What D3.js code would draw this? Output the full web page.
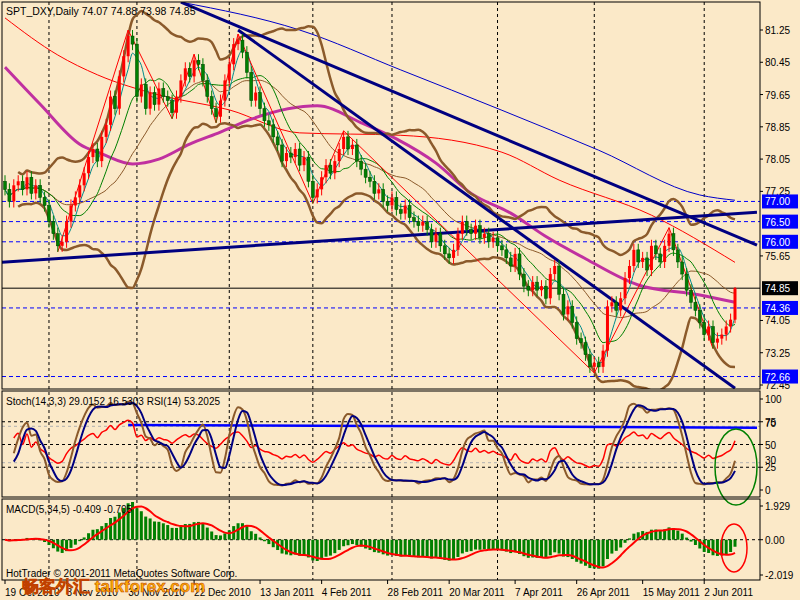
<!DOCTYPE html>
<html><head><meta charset="utf-8">
<script src="https://cdn.jsdelivr.net/npm/d3@7"></script>
<style>body{margin:0;background:#fbe9c8}text{font-family:"Liberation Sans",Arial,sans-serif}</style>
</head><body><svg id="c" width="800" height="600"></svg>
<script>
// ---- data ----
const closes = [77.3,77.0,77.4,77.5,77.3,77.6,77.2,77.4,77.1,76.9,
76.5,76.2,75.9,76.0, 76.5,76.9,77.1,77.4, 77.7,78.1,78.3,78.0,78.6,
78.9,79.6,79.3,80.1,80.6,81.1,80.9, 79.6,79.9,79.3, 79.7,79.4,79.8,79.6,79.5,
79.2,79.6,80.0,80.3,80.1,80.5,80.4, 80.0,79.6,79.3,79.1,79.5,
80.0,80.4,80.9,81.0,80.7,80.2, 79.5,79.7,79.3,79.0,78.9,
78.6,78.4,78.0,78.2,78.1,78.3, 77.9,78.1,77.5,77.1,77.3,
77.6,77.9,77.7,78.0,78.3, 78.6,78.3,78.4,78.0,
77.8,77.6,77.5,77.2,77.3,77.0,76.9,77.1, 76.8,76.7,76.9,76.6,76.5,
76.4,76.5,76.3,76.0,76.2,75.9, 75.7,75.6,75.8,76.2,76.5,
76.3,76.2,76.4,76.1,76.2,76.0, 76.1,75.9,75.8,75.6,75.4,75.7,
75.2,74.9,74.8,75.0,74.8,74.9,74.6, 75.2,75.4,74.7,74.2,74.4,
74.0,73.6,73.5,73.2,72.9, 73.0,72.9,73.3,74.4, 74.5,74.3,74.6,75.1,
75.4,75.8,75.5,75.6,75.3, 75.9,75.7,75.5,75.9,76.2,
75.8,75.5,75.2,74.8, 74.5,74.3,74.0,73.7,73.9,
73.5,73.6,73.7,73.9,74.07, 74.85];
const firstOpen = 77.5;
const lastBar = {open:74.07, high:74.88, low:73.98, close:74.85};
const dateLabels = ["19 Oct 2010","8 Nov 2010","30 Nov 2010","22 Dec 2010","13 Jan 2011","4 Feb 2011","28 Feb 2011","20 Mar 2011","7 Apr 2011","26 Apr 2011","15 May 2011","2 Jun 2011"];
const dateLabelIdx = [0,14,28,43,58,72,87,101,116,130,145,159];
const gridIdx = [10,30,51,70,88,112,134,159];
const priceTicks = [81.25,80.45,79.65,78.85,78.05,77.25,75.65,74.05,73.25,72.45];
const levelLines = [77.00,76.50,76.00,74.36,72.66];
const currentPrice = 74.85;
// long moving averages: [barIndex, value]
const ma200 = [[40,81.94],[67,81.25],[90,80.26],[113,79.26],[135,78.27],[158,77.16],[166,77.03]];
const ma100 = [[0,81.55],[12,80.63],[21,80.14],[35,79.64],[51,79.27],[67,78.7],[90,78.64],[113,78.22],[126,77.53],[147,76.66],[166,75.49]];
const ma50  = [[0,80.33],[8,79.41],[17,78.42],[22,78.18],[29,77.93],[35,78.05],[42,78.42],[49,78.72],[56,79.04],[71,79.37],[81,78.95],[89,78.55],[98,77.95],[106,77.2],[115,76.71],[123,76.13],[132,75.58],[144,74.93],[158,74.68],[166,74.5]];
// trend lines [barIndex, price]
const trendLines = [ [[-1,75.49],[171,76.73]], [[40,81.94],[171,75.92]], [[53,81.25],[166,72.37]] ];
const zigzagPivots = [[12,"l"],[28,"h"],[38,"l"],[43,"h"],[48,"l"],[53,"h"],[70,"l"],[77,"h"],[134,"l"],[151,"h"],[161,"l"]];
const rsiTrend = [[28,71.5],[171,68.5]];

// ---- build OHLC ----
const bars = closes.map((c,i)=>{
  const o = i===0?firstOpen:closes[i-1];
  return {i,open:o,close:c,high:Math.max(o,c)+0.15,low:Math.min(o,c)-0.15};
});
Object.assign(bars[bars.length-1], lastBar);
const N = bars.length;

const svg = d3.select("#c");
const L=2,R=760;
const x = d3.scaleLinear().domain([0,N-1]).range([5,735]);
const yP = d3.scaleLinear().domain([72.45,81.25]).range([385,30]);
const yS = d3.scaleLinear().domain([0,100]).range([490,399]);
const yM = d3.scaleLinear().domain([-2.019,1.929]).range([575,506]);
const panels=[[2,389],[391,497],[499,580]];

const defs=svg.append("defs");
panels.forEach((p,k)=>defs.append("clipPath").attr("id","cp"+k).append("rect").attr("x",L).attr("y",p[0]).attr("width",R-L).attr("height",p[1]-p[0]));

gridIdx.forEach(g=>svg.append("line").attr("x1",x(g)).attr("x2",x(g)).attr("y1",2).attr("y2",580).attr("stroke","#000").attr("stroke-dasharray","3,3"));

const G0=svg.append("g").attr("clip-path","url(#cp0)");
levelLines.forEach(v=>G0.append("line").attr("x1",L).attr("x2",R).attr("y1",yP(v)).attr("y2",yP(v)).attr("stroke","#0000ff").attr("stroke-dasharray","4,3"));
G0.append("line").attr("x1",L).attr("x2",R).attr("y1",yP(currentPrice)).attr("y2",yP(currentPrice)).attr("stroke","#000");

const sma=(arr,n)=>arr.map((_,i)=>{const s=arr.slice(Math.max(0,i-n+1),i+1);return d3.mean(s);});
const sd=(arr,n)=>arr.map((_,i)=>d3.deviation(arr.slice(Math.max(0,i-n+1),i+1))||0);
const mid=sma(closes,20), dev=sd(closes,20);
const up=mid.map((m,i)=>m+2*dev[i]), dn=mid.map((m,i)=>m-2*dev[i]);
const line=(ys,sc,start=0)=>d3.line().x((d,i)=>x(i+start)).y(d=>sc(d)).curve(d3.curveMonotoneX)(ys);
const pline=d3.line().x(d=>x(d[0])).y(d=>yP(d[1])).curve(d3.curveMonotoneX);

G0.append("path").attr("d",pline(ma200)).attr("fill","none").attr("stroke","#0000c8").attr("stroke-width",1);
G0.append("path").attr("d",pline(ma100)).attr("fill","none").attr("stroke","#ff0000").attr("stroke-width",1);
G0.append("path").attr("d",pline(ma50)).attr("fill","none").attr("stroke","#c030a0").attr("stroke-width",3);
G0.append("path").attr("d",line(up.slice(3),yP,3)).attr("fill","none").attr("stroke","#8b5a2b").attr("stroke-width",2.5);
G0.append("path").attr("d",line(dn.slice(3),yP,3)).attr("fill","none").attr("stroke","#8b5a2b").attr("stroke-width",2.5);
G0.append("path").attr("d",line(mid,yP)).attr("fill","none").attr("stroke","#8b5a2b").attr("stroke-width",1);
G0.append("path").attr("d",line(sma(closes,10),yP)).attr("fill","none").attr("stroke","#008000").attr("stroke-width",1);
G0.append("path").attr("d",line(sma(closes,4),yP)).attr("fill","none").attr("stroke","#008b8b").attr("stroke-width",1);
G0.append("path").attr("d",d3.line().x(d=>x(d[0])).y(d=>yP(d[1]==="h"?bars[d[0]].high:bars[d[0]].low))(zigzagPivots)).attr("fill","none").attr("stroke","#ff0000").attr("stroke-width",1);
trendLines.forEach(t=>G0.append("path").attr("d",d3.line().x(d=>x(d[0])).y(d=>yP(d[1]))(t)).attr("stroke","#000080").attr("stroke-width",3).attr("fill","none"));

const cg=G0.append("g");
bars.forEach(b=>{
  const upb=b.close>=b.open, col=upb?"#ff0000":"#008000";
  cg.append("line").attr("x1",x(b.i)).attr("x2",x(b.i)).attr("y1",yP(b.high)).attr("y2",yP(b.low)).attr("stroke",col);
  const y1=yP(Math.max(b.open,b.close)), y2=yP(Math.min(b.open,b.close));
  cg.append("rect").attr("x",x(b.i)-1.5).attr("y",y1).attr("width",3).attr("height",Math.max(1,y2-y1)).attr("fill",col).attr("stroke",upb?"none":"#004000").attr("stroke-width",0.5);
});

const hh=bars.map((_,i)=>d3.max(bars.slice(Math.max(0,i-13),i+1),d=>d.high));
const ll=bars.map((_,i)=>d3.min(bars.slice(Math.max(0,i-13),i+1),d=>d.low));
const num=closes.map((c,i)=>c-ll[i]), den=closes.map((c,i)=>hh[i]-ll[i]);
const sN=sma(num,3), sD=sma(den,3);
const K=sN.map((v,i)=>100*v/(sD[i]||1)), D=sma(K,3);
let ag=0,al=0; const rsi=closes.map((c,i)=>{ if(i===0) return 50; const ch=c-closes[i-1];
  const g=Math.max(ch,0), l=Math.max(-ch,0); const n=Math.min(i,14);
  ag=(ag*(n-1)+g)/n; al=(al*(n-1)+l)/n; return al===0?100:100-100/(1+ag/al);});
const G1=svg.append("g").attr("clip-path","url(#cp1)");
[75,50,25].forEach(v=>G1.append("line").attr("x1",L).attr("x2",R).attr("y1",yS(v)).attr("y2",yS(v)).attr("stroke","#000").attr("stroke-dasharray","3,3"));
[70,30].forEach(v=>G1.append("line").attr("x1",L).attr("x2",R).attr("y1",yS(v)).attr("y2",yS(v)).attr("stroke","#b0b0b0").attr("stroke-dasharray","3,3"));
G1.append("path").attr("d",d3.line().x(d=>x(d[0])).y(d=>yS(d[1]))(rsiTrend)).attr("stroke","#0000ff").attr("stroke-width",2.5);
G1.append("path").attr("d",line(rsi.slice(2),yS,2)).attr("fill","none").attr("stroke","#ff0000").attr("stroke-width",1.5);
G1.append("path").attr("d",line(K.slice(2),yS,2)).attr("fill","none").attr("stroke","#8b5a2b").attr("stroke-width",2);
G1.append("path").attr("d",line(D.slice(2),yS,2)).attr("fill","none").attr("stroke","#000080").attr("stroke-width",2);
svg.append("ellipse").attr("cx",736).attr("cy",467).attr("rx",21).attr("ry",38).attr("fill","none").attr("stroke","#008000").attr("stroke-width",1.5);

const ema=(arr,n)=>{const k=2/(n+1);let e=arr[0];return arr.map(v=>e=v*k+e*(1-k));};
const e5=ema(closes,5), e34=ema(closes,34);
const macd=closes.map((_,i)=>e5[i]-e34[i]), sig=sma(macd,5);
const G2=svg.append("g").attr("clip-path","url(#cp2)");
G2.append("line").attr("x1",L).attr("x2",R).attr("y1",yM(0)).attr("y2",yM(0)).attr("stroke","#000").attr("stroke-dasharray","3,3");
macd.forEach((m,i)=>G2.append("rect").attr("x",x(i)-1.5).attr("width",3).attr("y",Math.min(yM(m),yM(0))).attr("height",Math.abs(yM(m)-yM(0))).attr("fill","#008000"));
G2.append("path").attr("d",line(sig,yM)).attr("fill","none").attr("stroke","#ff0000").attr("stroke-width",2);
svg.append("ellipse").attr("cx",734).attr("cy",548).attr("rx",13).attr("ry",24).attr("fill","none").attr("stroke","#ff0000").attr("stroke-width",1.5);

panels.forEach(p=>svg.append("rect").attr("x",L).attr("y",p[0]).attr("width",R-L).attr("height",p[1]-p[0]).attr("fill","none").attr("stroke","#000"));

const rt=(y,t)=>{svg.append("line").attr("x1",R).attr("x2",R+3).attr("y1",y).attr("y2",y).attr("stroke","#000");
  svg.append("text").attr("x",R+5).attr("y",y+4).attr("font-size",10).text(t);};
priceTicks.forEach(v=>rt(yP(v),v.toFixed(2)));
[100,75,50,25,0].forEach(v=>rt(yS(v),v));
[[70,-3],[30,-3]].forEach(([v,o])=>svg.append("text").attr("x",R+5).attr("y",yS(v)+4+o).attr("font-size",10).text(v));
rt(yM(1.929),"1.929"); rt(yM(0),"0.00"); rt(yM(-2.019),"-2.019");
const box=(v,fill)=>{const y=yP(v);svg.append("rect").attr("x",R+2).attr("y",y-7).attr("width",36).attr("height",14).attr("fill",fill);
  svg.append("text").attr("x",R+5).attr("y",y+4).attr("font-size",10).attr("fill","#fff").text(v.toFixed(2));};
levelLines.forEach(v=>box(v,"#0000ff")); box(currentPrice,"#000");

dateLabelIdx.forEach((d,k)=>{svg.append("line").attr("x1",x(d)).attr("x2",x(d)).attr("y1",580).attr("y2",584).attr("stroke","#000");
  svg.append("text").attr("x",x(d)).attr("y",596).attr("font-size",10).text(dateLabels[k]);});

svg.append("text").attr("x",6).attr("y",15).attr("font-size",10.5).text("SPT_DXY,Daily  74.07 74.88 73.98 74.85");
svg.append("text").attr("x",6).attr("y",405).attr("font-size",10).text("Stoch(14,3,3) 29.0152 16.5303 RSI(14) 53.2025");
svg.append("text").attr("x",6).attr("y",513).attr("font-size",10).text("MACD(5,34,5) -0.409 -0.705");
svg.append("text").attr("x",6).attr("y",577).attr("font-size",10).text("HotTrader © 2001-2011 MetaQuotes Software Corp.");
svg.append("text").attr("x",22).attr("y",592).attr("font-size",17).attr("font-weight","bold").attr("fill","#ffb000").attr("stroke","#c04000").attr("stroke-width",0.5).attr("font-family","Noto Sans CJK SC").text("畅客外汇 talkforex.com");
</script></body></html>
